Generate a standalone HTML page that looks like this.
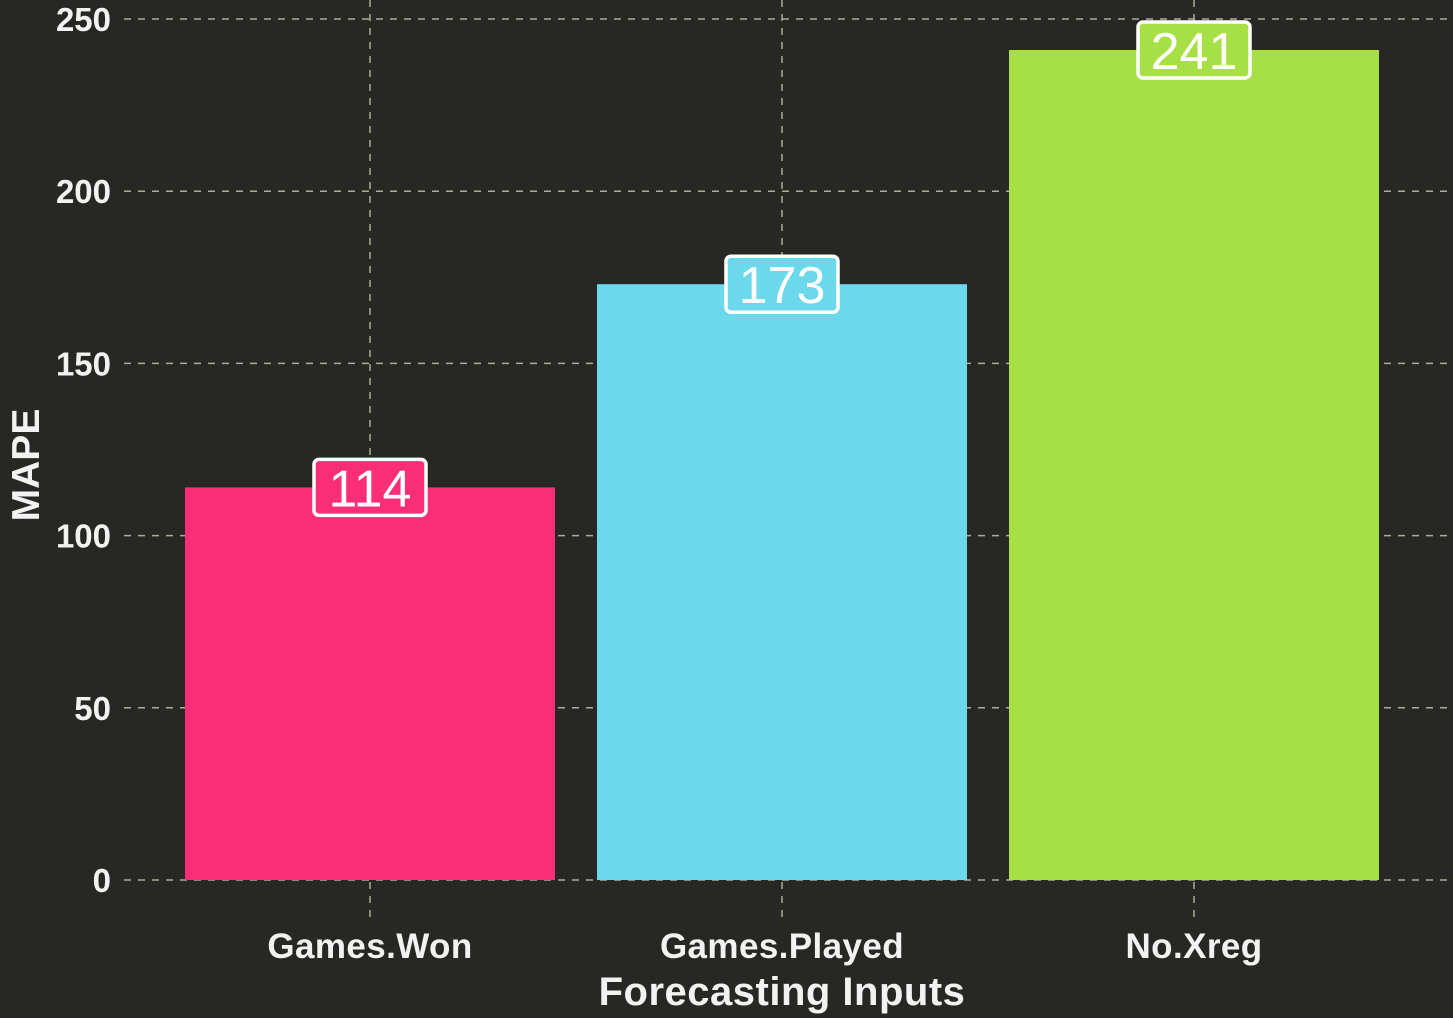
<!DOCTYPE html>
<html><head><meta charset="utf-8"><style>
html,body{margin:0;padding:0;background:#272723;}
svg{display:block;font-family:"Liberation Sans",sans-serif;}
</style></head><body>
<svg id="chart" width="1453" height="1018" viewBox="0 0 1453 1018">
<rect x="0" y="0" width="1453" height="1018" fill="#272723"/>
<g id="grid"></g><g id="bars"></g><g id="labels"></g><g id="axes"></g>
<text x="782" y="1005" text-anchor="middle" fill="#f2f2f2" font-size="40" font-weight="bold" letter-spacing="0.5">Forecasting Inputs</text>
<text transform="translate(39,465) rotate(-90)" text-anchor="middle" fill="#f2f2f2" font-size="39" font-weight="bold">MAPE</text>
</svg>
<script>
const categories = ["Games.Won","Games.Played","No.Xreg"];
const mapeValues = [114, 173, 241];
const yTicks = [0, 50, 100, 150, 200, 250];
const barColors = ["#F92E76","#6CD8EC","#A7E044"];
const NS="http://www.w3.org/2000/svg";
const y0=880, yTop=19, yMax=250;
const yScale=v=>y0-(y0-yTop)*v/yMax;
const band=412, firstCenter=370;
const xScale=i=>firstCenter+i*band;
const bw=370;
function mk(tag,attrs,parent){const e=document.createElementNS(NS,tag);for(const k in attrs)e.setAttribute(k,attrs[k]);document.getElementById(parent).appendChild(e);return e;}
yTicks.forEach(t=>{
  const y=yScale(t);
  const l=mk("line",{x1:124,x2:1453,y1:y,y2:y,stroke:"#b0ab98","stroke-width":1.5,"stroke-dasharray":"7,7"},"grid");
  
  
  const tx=mk("text",{x:111,y:y+12,"text-anchor":"end",fill:"#f2f2f2","font-size":33,"font-weight":"bold"},"axes");
  tx.textContent=t;
  
  
});
categories.forEach((c,i)=>{
  const x=xScale(i);
  const g=mk("line",{x1:x,x2:x,y1:0,y2:920,stroke:"#b0ab98","stroke-width":1.5,"stroke-dasharray":"7,7"},"grid");
  
  
  const v=mapeValues[i];
  const b=mk("rect",{x:x-bw/2,y:yScale(v),width:bw,height:y0-yScale(v),fill:barColors[i]},"bars");
  
  
  const yc=yScale(v);
  const bx=mk("rect",{x:x-56,y:yc-28,width:112,height:56,rx:5,fill:barColors[i],stroke:"#ffffff","stroke-width":3.5},"labels");
  
  
  const lt=mk("text",{x:x,y:yc+19,"text-anchor":"middle",fill:"#ffffff","font-size":52},"labels");
  lt.textContent=v;
  
  
  const xt=mk("text",{x:x,y:958,"text-anchor":"middle",fill:"#f2f2f2","font-size":35,"font-weight":"bold","letter-spacing":"0.4"},"axes");
  xt.textContent=c;
  
  
});
</script>
</body></html>
